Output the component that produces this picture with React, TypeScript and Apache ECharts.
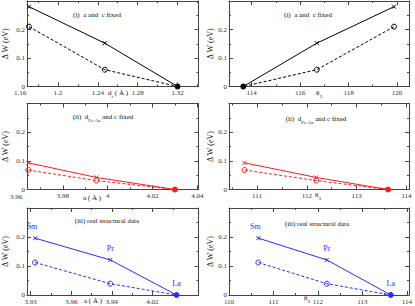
import React, { useEffect, useRef } from "react";
import * as echarts from "echarts";

const FONT = "'Liberation Serif', 'DejaVu Serif', serif";
const AXIS_COLOR = "#444";
const LABEL_COLOR = "#333";
const TEXT_COLOR = "#111";
const C_I = "#000000";
const C_II = "#ff1a1a";
const C_III = "#2b2bff";

// Row (i): a and c fixed
const drValues = [1.171, 1.247, 1.32];
const theta3RowI = [119.88, 116.69, 113.65];
const dWSolidI = [0.28, 0.152, 0.0];
const dWDashedI = [0.21, 0.059, 0.0];

// Row (ii): d_Fe-As and c fixed
const aRowII = [3.9646, 3.995, 4.03];
const theta3RowII = [110.75, 112.19, 113.63];
const dWSolidII = [0.093, 0.042, 0.0];
const dWDashedII = [0.068, 0.031, 0.0];

// Row (iii): real structural data
const aRowIII = [3.9332, 3.9888, 4.0378];
const theta3RowIII = [110.66, 112.2, 113.64];
const dWSolidIII = [0.196, 0.121, 0.0];
const dWDashedIII = [0.112, 0.039, 0.0];
const elementNames = ["Sm", "Pr", "La"];

// x tick labels / minor ticks
const xLabelsDr = [1.2, 1.24, 1.28, 1.32];
const xMinorDr = [1.18, 1.22, 1.26, 1.3, 1.34];
const xLabelsTheI = [114, 116, 118, 120];
const xMinorTheI = [115, 117, 119];
const xLabelsAII = [3.98, 4, 4.02, 4.04];
const xMinorAII = [3.97, 3.99, 4.01, 4.03];
const xLabelsTheII = [111, 112, 113, 114];
const xMinorTheII = [110.5, 111.5, 112.5, 113.5];
const xLabelsAIII = [3.93, 3.96, 3.99, 4.02];
const xMinorAIII = [3.945, 3.975, 4.005, 4.035];
const xLabelsTheIII = [110, 111, 112, 113, 114];
const xMinorTheIII = [110.5, 111.5, 112.5, 113.5];

type Panel = {
  grid: { left: number; top: number; width: number; height: number };
  min: number;
  max: number;
  labels: number[];
  minor: number[];
  xv: number[];
  solid: number[];
  dashed: number[];
  color: string;
  names?: string[];
};

const panels: Panel[] = [
  { grid: { left: 27, top: 1, width: 171.5, height: 85.5 }, min: 1.169, max: 1.341, labels: xLabelsDr, minor: xMinorDr, xv: drValues, solid: dWSolidI, dashed: dWDashedI, color: C_I },
  { grid: { left: 229, top: 1, width: 180, height: 85.5 }, min: 113.06, max: 120.5, labels: xLabelsTheI, minor: xMinorTheI, xv: theta3RowI, solid: dWSolidI, dashed: dWDashedI, color: C_I },
  { grid: { left: 27, top: 103.5, width: 171.5, height: 86 }, min: 3.964, max: 4.0405, labels: xLabelsAII, minor: xMinorAII, xv: aRowII, solid: dWSolidII, dashed: dWDashedII, color: C_II },
  { grid: { left: 229, top: 103.5, width: 180, height: 86 }, min: 110.44, max: 114.05, labels: xLabelsTheII, minor: xMinorTheII, xv: theta3RowII, solid: dWSolidII, dashed: dWDashedII, color: C_II },
  { grid: { left: 27, top: 208, width: 171.5, height: 87 }, min: 3.9273, max: 4.054, labels: xLabelsAIII, minor: xMinorAIII, xv: aRowIII, solid: dWSolidIII, dashed: dWDashedIII, color: C_III, names: elementNames },
  { grid: { left: 229, top: 208, width: 180, height: 87 }, min: 110, max: 114.05, labels: xLabelsTheIII, minor: xMinorTheIII, xv: theta3RowIII, solid: dWSolidIII, dashed: dWDashedIII, color: C_III, names: elementNames },
];

const CROSS = "path://M0 0L10 10M10 0L0 10";

function buildOption() {
  const grid: any[] = [];
  const xAxis: any[] = [];
  const yAxis: any[] = [];
  const series: any[] = [];

  panels.forEach((p, gi) => {
    grid.push({ ...p.grid, containLabel: false });
    const xb = xAxis.length;
    const mk = (position: string, lineShow: boolean, ticks: number[], len: number, labels: boolean) => ({
      type: "value",
      gridIndex: gi,
      min: p.min,
      max: p.max,
      position,
      axisLine: { show: lineShow, onZero: false, lineStyle: { color: AXIS_COLOR, width: 1 } },
      axisTick: { show: true, inside: true, length: len, customValues: ticks, lineStyle: { color: AXIS_COLOR, width: 1 } },
      axisLabel: labels
        ? { show: true, customValues: p.labels, fontSize: 7, fontFamily: FONT, color: LABEL_COLOR, margin: 3 }
        : { show: false },
      splitLine: { show: false },
    });
    xAxis.push(mk("bottom", true, p.labels, 4, true));
    xAxis.push(mk("bottom", false, p.minor, 2, false));
    xAxis.push(mk("top", true, p.labels, 4, false));
    xAxis.push(mk("top", false, p.minor, 2, false));

    const yl = yAxis.length;
    const left = gi % 2 === 0;
    const mky = (position: string, labels: boolean) => ({
      type: "value",
      gridIndex: gi,
      min: 0,
      max: 0.3,
      interval: 0.1,
      position,
      name: labels ? "Δ W (eV)" : "",
      nameLocation: "middle",
      nameGap: left ? 18 : 15,
      nameTextStyle: { fontSize: 8, fontFamily: FONT, color: TEXT_COLOR },
      axisLine: { show: true, onZero: false, lineStyle: { color: AXIS_COLOR, width: 1 } },
      axisTick: { show: true, inside: true, length: 4, lineStyle: { color: AXIS_COLOR, width: 1 } },
      minorTick: { show: true, splitNumber: 2, length: 2, lineStyle: { color: AXIS_COLOR, width: 1 } },
      axisLabel: labels
        ? { show: true, showMaxLabel: false, fontSize: 7, fontFamily: FONT, color: LABEL_COLOR, margin: 2, formatter: (v: number) => (v > 0.29 ? "" : String(Math.round(v * 10) / 10)) }
        : { show: false },
      splitLine: { show: false },
      minorSplitLine: { show: false },
    });
    yAxis.push(mky("left", true));
    yAxis.push(mky("right", false));

    series.push({
      type: "line",
      xAxisIndex: xb,
      yAxisIndex: yl,
      data: p.xv.map((x, i) =>
        p.names && i === 0
          ? { value: [x, p.solid[i]], label: { offset: [-3, 0] } }
          : [x, p.solid[i]]
      ),
      symbol: CROSS,
      symbolSize: 4,
      lineStyle: { color: p.color, width: 1 },
      itemStyle: { color: "none", borderColor: p.color, borderWidth: 1 },
      label: p.names
        ? {
            show: true,
            position: "top",
            distance: 3,
            formatter: (q: any) => p.names![q.dataIndex],
            color: p.color,
            fontSize: 8,
            fontFamily: FONT,
          }
        : { show: false },
      z: 3,
    });
    series.push({
      type: "line",
      xAxisIndex: xb,
      yAxisIndex: yl,
      data: p.xv.map((x, i) =>
        p.dashed[i] === 0
          ? { value: [x, p.dashed[i]], itemStyle: { color: p.color, borderColor: p.color } }
          : [x, p.dashed[i]]
      ),
      symbol: "circle",
      symbolSize: 5,
      lineStyle: { color: p.color, width: 1, type: [3, 2] },
      itemStyle: { color: "rgba(255,255,255,0)", borderColor: p.color, borderWidth: 1 },
      z: 2,
    });
  });

  const txt = (x: number, y: number, text: string, size = 7, color = TEXT_COLOR) => ({
    type: "text",
    x,
    y,
    style: {
      text,
      fill: color,
      fontSize: size,
      fontFamily: FONT,
      align: "center",
      verticalAlign: "middle",
      textAlign: "center",
      textVerticalAlign: "middle",
      rich: {
        n: { fontSize: size, fontFamily: FONT, fill: color, color, lineHeight: 10, verticalAlign: "top" },
        s: { fontSize: size - 2, fontFamily: FONT, fill: color, color, lineHeight: 7, verticalAlign: "bottom" },
      },
    },
    z: 10,
  });

  const graphic = [
    txt(97, 15, "(i)  a and  c fixed"),
    txt(308, 15, "(i)  a and  c fixed"),
    txt(103, 118, "{n|(ii)  d}{s|Fe-As}{n| and c fixed}"),
    txt(316, 120, "{n|(ii)  d}{s|Fe-As}{n| and c fixed}"),
    txt(107, 221, "(iii) real structural data"),
    txt(317, 224, "(iii) real structural data"),
    txt(118, 94, "{n|d}{s|r}{n| ( Å )}"),
    txt(319, 94, "{n|θ}{s|3}"),
    txt(92, 198, "a ( Å )"),
    txt(318, 196, "{n|θ}{s|3}"),
    txt(93, 301, "a ( Å )"),
    txt(307, 299, "{n|θ}{s|3}"),
    txt(20, 93, "1.16", 7, LABEL_COLOR),
    txt(16, 196.5, "3.96", 7, LABEL_COLOR),
  ];

  return {
    animation: false,
    backgroundColor: "#ffffff",
    grid,
    xAxis,
    yAxis,
    series,
    graphic,
  };
}

export default function App() {
  const ref = useRef<HTMLDivElement>(null);
  useEffect(() => {
    if (!ref.current) return;
    const chart = echarts.init(ref.current, undefined, { renderer: "svg" });
    chart.setOption(buildOption() as any);
    return () => chart.dispose();
  }, []);
  return (
    <div
      ref={ref}
      style={{ position: "absolute", left: 0, top: 0, width: 415, height: 306, background: "#fff" }}
    />
  );
}
